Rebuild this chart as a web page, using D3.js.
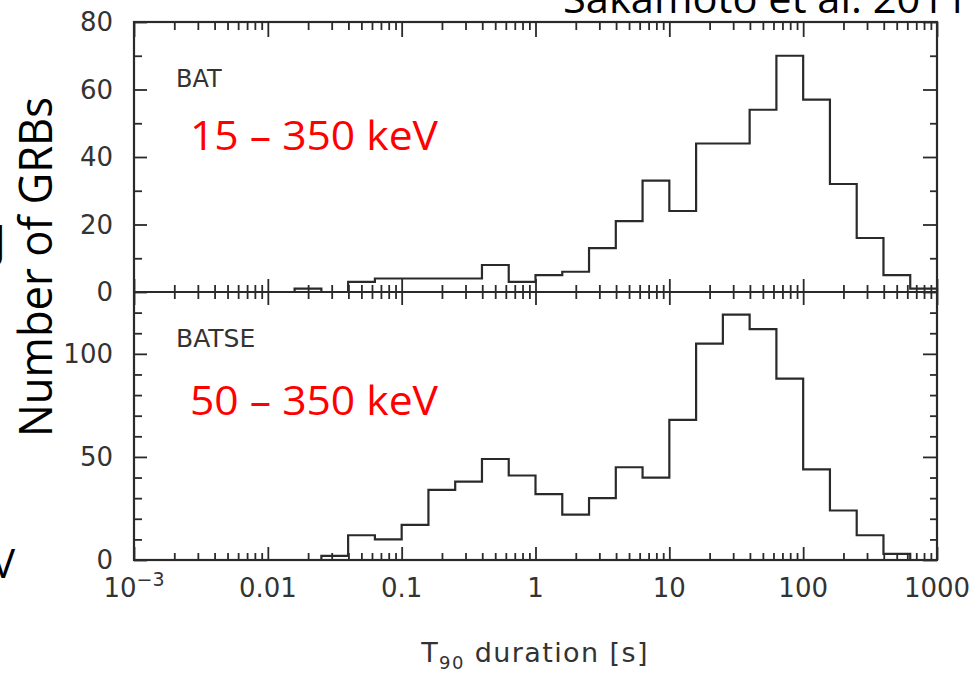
<!DOCTYPE html>
<html>
<head>
<meta charset="utf-8">
<script src="https://cdn.jsdelivr.net/npm/d3@7"></script>
<style>
  html, body { margin: 0; padding: 0; background: #fff; }
  svg { display: block; }
</style>
</head>
<body>
<svg id="chart" width="975" height="673"></svg>
<script>
// ---- data ----
// bin edges, log10(T90 / s)
const binEdgesLog = [-3.0, -2.8, -2.6, -2.4, -2.2, -2.0, -1.8, -1.6, -1.4, -1.2, -1.0,
                     -0.8, -0.6, -0.4, -0.2, 0.0, 0.2, 0.4, 0.6, 0.8, 1.0,
                     1.2, 1.4, 1.6, 1.8, 2.0, 2.2, 2.4, 2.6, 2.8, 3.0];
const batCounts = [0, 0, 0, 0, 0, 0, 1, 0, 3, 4, 4, 4, 4, 8, 3,
                   5, 6, 13, 21, 33, 24, 44, 44, 54, 70, 57, 32, 16, 5, 1];
const batseCounts = [0, 0, 0, 0, 0, 0, 0, 2, 12, 10, 17, 34, 38, 49, 41,
                     32, 22, 30, 45, 40, 68, 105, 119, 112, 88, 44, 24, 12, 3, 0];
const xMajorTicks = [1e-3, 1e-2, 1e-1, 1, 10, 100, 1000];
const xTickLabels = ["10", "0.01", "0.1", "1", "10", "100", "1000"];
const topYTicks = [0, 20, 40, 60, 80];
const topYMinor = [10, 30, 50, 70];
const botYTicks = [0, 50, 100];
const botYMinor = [10, 20, 30, 40, 60, 70, 80, 90, 110, 120];
const panelNames = ["BAT", "BATSE"];
const bandLabels = ["15 – 350 keV", "50 – 350 keV"];

// ---- layout ----
const L = 134, R = 937, T = 22, M = 292, B = 560;
const ink = "#2a2a2a";
const svg = d3.select("#chart");

const x = d3.scaleLog().domain([1e-3, 1e3]).range([L, R]);
const yTop = d3.scaleLinear().domain([0, 80]).range([M, T]);
const yBot = d3.scaleLinear().domain([0, 130]).range([B, M]);

const xMinor = x.ticks().filter(v => !xMajorTicks.some(m => Math.abs(Math.log10(v) - Math.log10(m)) < 1e-6));

function styleAxis(g) {
  g.select(".domain").remove();
  g.selectAll(".tick line").attr("stroke", ink).attr("stroke-width", 1.8);
  g.selectAll(".tick text").remove();
}

// x ticks: top (inward down), middle (both ways), bottom (inward up)
function xAxisAt(y, axisFn, vals, size) {
  svg.append("g").attr("transform", `translate(0,${y})`)
    .call(axisFn(x).tickValues(vals).tickSize(size).tickFormat(""))
    .call(styleAxis);
}
xAxisAt(T, d3.axisTop, xMajorTicks, -15);
xAxisAt(T, d3.axisTop, xMinor, -8);
xAxisAt(M, d3.axisTop, xMajorTicks, -13);
xAxisAt(M, d3.axisTop, xMinor, -7);
xAxisAt(M, d3.axisBottom, xMajorTicks, -13);
xAxisAt(M, d3.axisBottom, xMinor, -7);
xAxisAt(B, d3.axisBottom, xMajorTicks, -13);
xAxisAt(B, d3.axisBottom, xMinor, -7);

// y ticks
function yAxisAt(xpos, axisFn, scale, vals, size) {
  svg.append("g").attr("transform", `translate(${xpos},0)`)
    .call(axisFn(scale).tickValues(vals).tickSize(size).tickFormat(""))
    .call(styleAxis);
}
yAxisAt(L, d3.axisLeft, yTop, topYTicks, -13);
yAxisAt(L, d3.axisLeft, yTop, topYMinor, -8);
yAxisAt(R, d3.axisRight, yTop, topYTicks, -14);
yAxisAt(R, d3.axisRight, yTop, topYMinor, -7);
yAxisAt(L, d3.axisLeft, yBot, botYTicks, -13);
yAxisAt(L, d3.axisLeft, yBot, botYMinor, -8);
yAxisAt(R, d3.axisRight, yBot, botYTicks, -14);
yAxisAt(R, d3.axisRight, yBot, botYMinor, -7);

// y tick labels
function yLabels(scale, vals) {
  svg.append("g").selectAll("text").data(vals).join("text")
    .attr("x", L - 21).attr("y", d => scale(d))
    .attr("dy", "0.36em")
    .attr("text-anchor", "end")
    .attr("font-family", "DejaVu Sans, sans-serif")
    .attr("font-size", 26)
    .attr("fill", "#333")
    .text(d => d);
}
yLabels(yTop, topYTicks);
yLabels(yBot, botYTicks);

// frame
svg.append("rect").attr("x", L).attr("y", T).attr("width", R - L).attr("height", B - T)
  .attr("fill", "none").attr("stroke", ink).attr("stroke-width", 2.2);
svg.append("line").attr("x1", L).attr("x2", R).attr("y1", M).attr("y2", M)
  .attr("stroke", ink).attr("stroke-width", 2.2);

// histograms
function stepPoints(counts) {
  const pts = [[binEdgesLog[0], 0]];
  counts.forEach((c, i) => {
    pts.push([binEdgesLog[i], c]);
    pts.push([binEdgesLog[i + 1], c]);
  });
  pts.push([binEdgesLog[binEdgesLog.length - 1], 0]);
  return pts;
}
function drawHist(counts, yScale) {
  const line = d3.line().x(d => x(Math.pow(10, d[0]))).y(d => yScale(d[1]));
  svg.append("path").attr("d", line(stepPoints(counts)))
    .attr("fill", "none").attr("stroke", ink).attr("stroke-width", 2.2)
    .attr("stroke-linejoin", "miter");
}
drawHist(batCounts, yTop);
drawHist(batseCounts, yBot);

// x tick labels
const xl = svg.append("g").selectAll("text").data(xMajorTicks).join("text")
  .attr("x", d => x(d)).attr("y", 597)
  .attr("text-anchor", "middle")
  .attr("font-family", "DejaVu Sans, sans-serif")
  .attr("font-size", 26)
  .attr("fill", "#333");
xl.each(function(d, i) {
  const t = d3.select(this);
  if (i === 0) {
    t.append("tspan").text(xTickLabels[i]);
    t.append("tspan").attr("dy", -11).attr("font-size", 19).text("−3");
  } else {
    t.text(xTickLabels[i]);
  }
});

// x axis title
const xt = svg.append("text").attr("x", 535).attr("y", 662)
  .attr("text-anchor", "middle")
  .attr("font-family", "DejaVu Sans, sans-serif")
  .attr("font-size", 27).attr("letter-spacing", 1.4)
  .attr("fill", "#333");
xt.append("tspan").text("T");
xt.append("tspan").attr("dy", 7).attr("font-size", 18).text("90");
xt.append("tspan").attr("dy", -7).text(" duration [s]");

// panel names
svg.append("text").attr("x", 176).attr("y", 87)
  .attr("font-family", "DejaVu Sans, sans-serif").attr("font-size", 24)
  .attr("fill", "#333").text(panelNames[0]);
svg.append("text").attr("x", 176).attr("y", 347)
  .attr("font-family", "DejaVu Sans, sans-serif").attr("font-size", 25)
  .attr("fill", "#333").text(panelNames[1]);

// red energy band labels
[[bandLabels[0], 150], [bandLabels[1], 415]].forEach(([txt, yy]) => {
  svg.append("text").attr("x", 190).attr("y", yy)
    .attr("font-family", "Open Sans, sans-serif").attr("font-size", 40)
    .attr("fill", "#ff0000")
    .attr("textLength", 248).attr("lengthAdjust", "spacingAndGlyphs")
    .text(txt);
});

// y axis title
svg.append("text")
  .attr("transform", "translate(52,267) rotate(-90)")
  .attr("text-anchor", "middle")
  .attr("font-family", "Open Sans, sans-serif").attr("font-size", 46)
  .attr("fill", "#000")
  .attr("textLength", 340).attr("lengthAdjust", "spacingAndGlyphs")
  .text("Number of GRBs");

// citation (partly cut off at the top)
svg.append("text").attr("x", 563).attr("y", 13)
  .attr("font-family", "Open Sans, sans-serif").attr("font-size", 41)
  .attr("fill", "#000")
  .attr("textLength", 405).attr("lengthAdjust", "spacingAndGlyphs")
  .text("Sakamoto et al. 2011");

// fragments of neighbouring slide text at the left edge
svg.append("text").attr("x", 6).attr("y", 258).attr("text-anchor", "end")
  .attr("font-family", "Open Sans, sans-serif").attr("font-size", 46)
  .attr("fill", "#000").text("J");
svg.append("text").attr("x", 15).attr("y", 578).attr("text-anchor", "end")
  .attr("font-family", "Open Sans, sans-serif").attr("font-size", 40)
  .attr("fill", "#000").text("V");
</script>
</body>
</html>
